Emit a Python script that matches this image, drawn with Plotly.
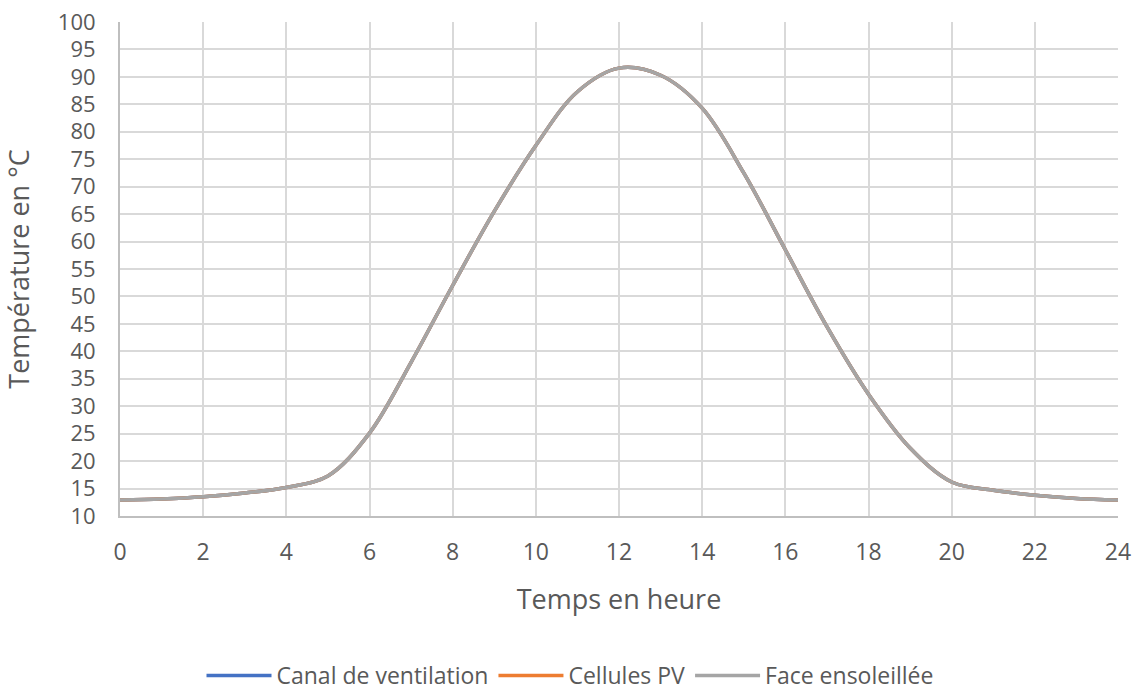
import plotly.graph_objects as go

hours = list(range(0, 25))
canal = [12.9, 13.1, 13.5, 14.2, 15.2, 17.3, 25.1, 38.0, 52.0, 65.5, 77.5, 87.3, 91.6, 90.3, 84.3, 72.5, 58.5, 44.5, 32.2, 22.4, 16.2, 14.7, 13.8, 13.2, 12.9]
cellules = [12.9, 13.1, 13.5, 14.2, 15.2, 17.3, 25.1, 38.0, 52.0, 65.5, 77.5, 87.3, 91.6, 90.3, 84.3, 72.5, 58.5, 44.5, 32.2, 22.4, 16.2, 14.7, 13.8, 13.2, 12.9]
face = [12.9, 13.1, 13.5, 14.2, 15.2, 17.3, 25.1, 38.0, 52.0, 65.5, 77.5, 87.3, 91.6, 90.3, 84.3, 72.5, 58.5, 44.5, 32.2, 22.4, 16.2, 14.7, 13.8, 13.2, 12.9]

names = ["Canal de ventilation", "Cellules PV", "Face ensoleillée"]
colors = ["#4472C4", "#ED7D31", "#A5A5A5"]

fig = go.Figure()
for name, ys, col in zip(names, [canal, cellules, face], colors):
    fig.add_trace(go.Scatter(x=hours, y=ys, mode="lines", name=name,
                             line=dict(color=col, width=3.5, shape="spline", smoothing=1.0)))

font_fam = "Open Sans, Liberation Sans, sans-serif"
fig.update_layout(
    width=1140, height=695,
    margin=dict(l=120, r=22, t=22, b=179),
    paper_bgcolor="white", plot_bgcolor="white",
    font=dict(family=font_fam, color="#595959", size=22),
    showlegend=True,
    legend=dict(orientation="h", x=0.5, xanchor="center", xref="container",
                y=0.028, yanchor="middle", yref="container",
                font=dict(size=23, color="#595959"), itemwidth=65),
    xaxis=dict(range=[0, 24], tickmode="array", tickvals=list(range(0, 25, 2)),
               showgrid=True, gridcolor="#D9D9D9", gridwidth=2,
               showline=True, linecolor="#BFBFBF", linewidth=2,
               zeroline=False, ticks="", ticklabelstandoff=14, automargin=False,
               tickfont=dict(size=23),
               title=dict(text="Temps en heure", font=dict(size=27, color="#595959"), standoff=25)),
    yaxis=dict(range=[10, 100], tickmode="array", tickvals=list(range(10, 101, 5)),
               showgrid=True, gridcolor="#D9D9D9", gridwidth=2,
               showline=True, linecolor="#BFBFBF", linewidth=2,
               zeroline=False, ticks="", ticklabelstandoff=18, automargin=False,
               tickfont=dict(size=22),
               title=dict(text="Température en °C", font=dict(size=27, color="#595959"), standoff=20)),
)

fig.write_html("out.html", config={"displayModeBar": False},
               post_script="document.body.style.margin='0';")
